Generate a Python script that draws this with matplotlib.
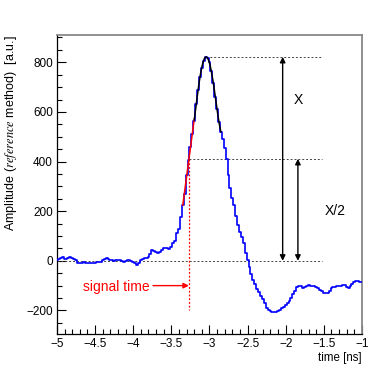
import numpy as np
import matplotlib.pyplot as plt
from matplotlib.ticker import MultipleLocator

plt.rcParams['font.family'] = ['Liberation Sans', 'DejaVu Sans']
plt.rcParams['mathtext.fontset'] = 'stix'

# waveform samples, 0.025 ns apart, from -5 ns to -1 ns
T_START = -5.0
T_STEP = 0.025
amplitude = [
    4, 6, 12, 14, 9, 6, 10, 14, 12, 6,
    2, -8, -9, -7, -6, -8, -9, -10, -8, -7,
    -9, -6, -4, -3, 2, 8, 10, 6, 4, 2,
    0, 2, 5, 4, 0, -3, -1, 2, 3, 1,
    -3, -10, -15, -8, 2, 6, 10, 13, 17, 28,
    42, 41, 35, 32, 36, 44, 50, 52, 50, 49,
    56, 72, 78, 112, 130, 175, 225, 270, 345, 405,
    460, 510, 565, 630, 690, 740, 775, 805, 822, 818,
    800, 765, 715, 660, 610, 560, 520, 490, 455, 410,
    345, 295, 255, 225, 180, 145, 118, 95, 70, 30,
    5, -25, -55, -78, -92, -112, -125, -140, -155, -170,
    -190, -200, -203, -205, -205, -207, -204, -198, -192, -186,
    -180, -172, -162, -150, -135, -120, -106, -100, -103, -108,
    -106, -100, -98, -100, -101, -103, -105, -110, -116, -122,
    -128, -131, -128, -120, -110, -106, -104, -102, -100, -101,
    -99, -98, -105, -108, -100, -92, -84, -80, -81, -84,
    -86,
]

RISE_WINDOW = (-3.36, -3.19)
PEAK_WINDOW = (-3.21, -2.84)
YMIN, YMAX = -295, 910

amp = np.array(amplitude, dtype=float)
t = T_START + T_STEP * np.arange(len(amp))

peak = amp.max()
half = peak / 2

# linear fit on the rising edge
rise = (t >= RISE_WINDOW[0]) & (t <= RISE_WINDOW[1])
a, b = np.polyfit(t[rise], amp[rise], 1)
t_rise = np.linspace(t[rise][0], t[rise][-1], 50)
t_sig = (half - b) / a

# polynomial fit around the maximum
top = (t >= PEAK_WINDOW[0]) & (t <= PEAK_WINDOW[1])
coef = np.polyfit(t[top], amp[top], 4)
t_top = np.linspace(t[top][0], t[top][-1], 100)

fig = plt.figure(figsize=(3.81, 3.71), dpi=100)
ax = fig.add_axes([0.1496, 0.0997, 0.8004, 0.806])

ax.step(t, amp, where='mid', color='#0000ff', lw=1.2, zorder=3)
ax.plot([t[-1] + T_STEP / 2] * 2, [amp[-1], YMIN], color='#0000ff', lw=1.2, zorder=3)
ax.plot(t_rise, np.polyval([a, b], t_rise), color='red', lw=1.1, zorder=4)
ax.plot(t_top, np.polyval(coef, t_top), color='black', lw=1.1, zorder=4)

dots = (0, (2, 2))
x_end = -1.53
ax.plot([-5, x_end], [0, 0], color='#444444', lw=0.7, ls=dots, zorder=2)
ax.plot([t_sig, x_end], [half, half], color='#444444', lw=0.7, ls=dots, zorder=2)
ax.plot([t[np.argmax(amp)], x_end], [peak, peak], color='#444444', lw=0.7, ls=dots, zorder=2)
ax.plot([t_sig, t_sig], [half, -200], color='red', lw=0.9, ls=(0, (1.5, 1.5)), zorder=2)

arrow = dict(arrowstyle='<|-|>', color='black', lw=1.0, mutation_scale=8,
             shrinkA=0, shrinkB=0)
ax.annotate('', xy=(-2.04, peak), xytext=(-2.04, 0), arrowprops=arrow)
ax.annotate('', xy=(-1.84, half), xytext=(-1.84, 0), arrowprops=arrow)
ax.text(-1.83, 650, 'X', fontsize=10, ha='center', va='center')
ax.text(-1.35, 200, 'X/2', fontsize=10, ha='center', va='center')

ax.annotate('', xy=(t_sig, -100), xytext=(-3.74, -100),
            arrowprops=dict(arrowstyle='-|>', color='red', lw=1.0,
                            mutation_scale=8, shrinkA=0, shrinkB=0))
ax.text(-3.79, -105, 'signal time', color='red', fontsize=10,
        ha='right', va='center')

ax.set_xlim(-5, -1)
ax.set_ylim(YMIN, YMAX)
ax.xaxis.set_major_locator(MultipleLocator(0.5))
ax.xaxis.set_minor_locator(MultipleLocator(0.1))
ax.yaxis.set_major_locator(MultipleLocator(200))
ax.yaxis.set_minor_locator(MultipleLocator(50))
ax.xaxis.set_major_formatter(lambda v, p: f'{v:g}'.replace('-', '\u2212'))
ax.yaxis.set_major_formatter(lambda v, p: f'{v:g}'.replace('-', '\u2212'))
ax.tick_params(which='both', direction='in', labelsize=8.5, pad=3,
               top=False, right=False)
ax.tick_params(which='major', length=6.5, width=0.8)
ax.tick_params(which='minor', length=3.5, width=0.8)

for side in ('top', 'right'):
    ax.spines[side].set_color('#888888')
    ax.spines[side].set_linewidth(1.3)
for side in ('left', 'bottom'):
    ax.spines[side].set_linewidth(0.9)

ax.set_xlabel('time [ns]', fontsize=8.3, loc='right', labelpad=1)
ax.set_ylabel(r'Amplitude ($\mathit{reference}$ method)  [a.u.]',
              fontsize=9, loc='top', labelpad=5)

fig.savefig('out.png', dpi=100)
